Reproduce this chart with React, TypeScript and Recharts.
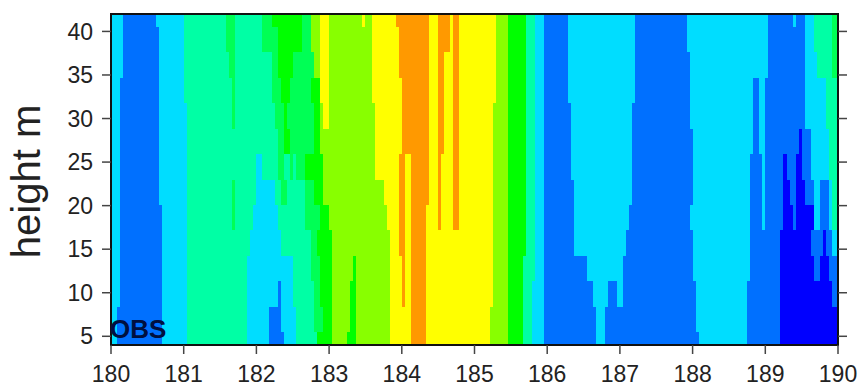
import { ComposedChart, ReferenceArea, Scatter, XAxis, YAxis } from "recharts";

// colour classes, lowest to highest
const palette = [
  "#0000ff",
  "#0070ff",
  "#00ddff",
  "#00ffa5",
  "#00ff55",
  "#00ff00",
  "#88ff00",
  "#ffff00",
  "#ff9900",
];

const startDay = 180;
const xTicks = [180, 181, 182, 183, 184, 185, 186, 187, 188, 189, 190];
const yTicks = [5, 10, 15, 20, 25, 30, 35, 40];

// measurement heights in m, bottom to top
const heights = [4, 6.9, 9.8, 12.8, 15.7, 18.6, 21.5, 24.5, 27.4, 30.3, 33.2, 36.2, 39.1, 42];

// each row: [colour class, hour the run ends at], hours counted from day 180
type Run = [number, number];

const row00: Run[] = [[2,2],[1,17],[2,25],[3,45],[2,52],[1,57],[2,61],[3,68],[5,73],[6,78],[5,81],[6,92],[7,99],[8,104],[7,125],[6,131],[5,136],[3,139],[2,143],[1,160],[2,163],[1,194],[2,210],[1,221],[0,240]];
const row01: Run[] = [[2,2],[1,17],[2,25],[3,45],[2,52],[1,56],[2,61],[3,67],[4,70],[5,73],[6,79],[5,81],[6,92],[7,99],[8,104],[7,125],[6,131],[5,136],[3,139],[2,143],[1,160],[2,163],[1,193],[2,210],[1,221],[0,240]];
const row02: Run[] = [[2,3],[1,17],[2,25],[3,45],[2,55],[1,56],[2,60],[3,67],[4,69],[5,73],[6,79],[5,81],[6,92],[7,96],[8,97],[7,99],[8,104],[7,126],[6,131],[5,136],[3,139],[2,143],[1,159],[2,164],[1,167],[2,169],[1,193],[2,210],[1,221],[0,238],[1,240]];
const row03: Run[] = [[2,3],[1,17],[2,25],[3,45],[2,60],[3,66],[4,69],[5,73],[6,80],[5,81],[6,92],[7,96],[8,97],[7,99],[8,104],[7,126],[6,131],[5,136],[3,140],[2,143],[1,157],[2,169],[1,192],[2,211],[1,221],[0,232],[1,234],[0,237],[1,240]];
const row04: Run[] = [[2,3],[1,17],[2,25],[3,46],[2,56],[3,66],[4,68],[5,73],[6,92],[7,95],[8,97],[7,99],[8,104],[7,126],[6,131],[5,137],[3,140],[2,143],[1,153],[2,170],[1,192],[2,211],[1,221],[0,231],[1,235],[0,236],[1,238],[2,240]];
const row05: Run[] = [[2,3],[1,17],[2,25],[3,40],[4,41],[3,47],[2,55],[3,64],[4,69],[5,72],[6,91],[7,95],[8,97],[7,99],[8,104],[7,108],[8,109],[7,113],[8,115],[7,126],[6,131],[5,137],[3,140],[2,143],[1,153],[2,171],[1,191],[2,211],[1,215],[2,216],[1,222],[0,225],[1,226],[0,232],[2,234],[1,237],[2,238],[3,240]];
const row06: Run[] = [[2,3],[1,16],[2,25],[3,40],[4,41],[3,48],[2,54],[3,56],[4,58],[3,64],[4,67],[5,70],[6,90],[7,95],[8,97],[7,99],[8,105],[7,108],[8,109],[7,113],[8,115],[7,126],[6,131],[5,137],[3,140],[2,143],[1,153],[2,172],[1,192],[2,211],[1,215],[2,216],[1,222],[0,224],[1,226],[0,229],[1,232],[2,234],[1,237],[2,238],[3,240]];
const row07: Run[] = [[2,3],[1,16],[2,25],[3,48],[2,50],[3,55],[4,57],[3,59],[4,60],[3,61],[4,64],[5,70],[6,87],[7,95],[8,97],[7,99],[8,105],[7,108],[8,109],[7,113],[8,115],[7,126],[6,131],[5,137],[3,140],[2,143],[1,152],[2,172],[1,192],[2,211],[1,215],[2,216],[1,222],[0,223],[1,226],[0,228],[1,231],[2,237],[3,240]];
const row08: Run[] = [[2,3],[1,16],[2,25],[3,55],[4,57],[5,59],[4,67],[5,69],[6,87],[7,96],[8,105],[7,108],[8,110],[7,113],[8,115],[7,126],[6,131],[5,137],[3,140],[2,143],[1,152],[2,172],[1,192],[2,212],[1,214],[2,216],[1,227],[0,228],[1,231],[2,237],[3,240]];
const row09: Run[] = [[2,3],[1,16],[2,25],[3,40],[4,41],[3,54],[4,57],[5,58],[4,67],[5,69],[6,70],[7,72],[6,87],[7,96],[8,105],[7,108],[8,110],[7,113],[8,115],[7,126],[6,131],[5,137],[3,140],[2,143],[1,152],[2,172],[1,191],[2,212],[1,214],[2,216],[1,229],[2,236],[3,240]];
const row10: Run[] = [[2,3],[1,16],[2,24],[3,40],[4,41],[3,53],[4,56],[5,59],[4,66],[5,69],[7,72],[6,86],[7,96],[8,105],[7,108],[8,110],[7,113],[8,115],[7,127],[6,131],[5,137],[3,140],[2,143],[1,151],[2,173],[1,191],[2,212],[1,214],[2,216],[1,229],[2,236],[3,240]];
const row11: Run[] = [[2,4],[1,16],[2,24],[3,39],[4,41],[3,53],[4,55],[5,60],[4,67],[6,69],[7,72],[6,86],[7,95],[8,105],[7,108],[8,110],[7,113],[8,115],[7,127],[6,131],[5,137],[3,140],[2,143],[1,151],[2,173],[1,191],[2,217],[1,229],[2,233],[3,238],[4,240]];
const row12: Run[] = [[2,4],[1,16],[2,24],[3,38],[4,41],[3,50],[4,55],[5,63],[4,66],[6,69],[7,72],[6,86],[7,95],[8,105],[7,108],[8,112],[7,113],[8,115],[7,127],[6,131],[5,137],[3,140],[2,143],[1,151],[2,173],[1,190],[2,217],[1,229],[2,232],[3,238],[4,240]];
const row13: Run[] = [[2,4],[1,15],[2,24],[3,38],[4,41],[3,50],[4,53],[5,63],[4,66],[6,69],[7,72],[6,83],[7,84],[6,86],[7,94],[8,105],[7,108],[8,112],[7,113],[8,115],[7,127],[6,131],[5,137],[3,140],[2,143],[1,151],[2,173],[1,190],[2,217],[1,225],[2,226],[1,229],[2,232],[3,238],[4,240]];

const rows = [row00, row01, row02, row03, row04, row05, row06, row07, row08, row09, row10, row11, row12, row13];

const FONT = '"Liberation Sans", Arial, sans-serif';
const INK = "#222";

function Cell(props: any) {
  return (
    <rect
      x={props.x}
      y={props.y}
      width={props.width}
      height={props.height}
      fill={props.fill}
      shapeRendering="crispEdges"
    />
  );
}

function renderCells() {
  const cells: any[] = [];
  rows.forEach((row, r) => {
    const y1 = r === 0 ? heights[0] : (heights[r - 1] + heights[r]) / 2;
    const y2 = r === rows.length - 1 ? heights[r] : (heights[r] + heights[r + 1]) / 2;
    let from = 0;
    row.forEach(([colour, to]) => {
      cells.push(
        <ReferenceArea
          key={`${r}-${to}`}
          x1={startDay + from / 24}
          x2={startDay + to / 24}
          y1={y1}
          y2={y2}
          fill={palette[colour]}
          fillOpacity={1}
          stroke="none"
          shape={Cell}
        />
      );
      from = to;
    });
  });
  return cells;
}

export default function App() {
  return (
    <div style={{ position: "fixed", left: 0, top: 0, width: 861, height: 387, background: "#fff" }}>
      <ComposedChart width={861} height={387} margin={{ top: 0, right: 0, bottom: 0, left: 0 }}>
        <XAxis
          type="number"
          dataKey="x"
          domain={[180, 190]}
          ticks={xTicks}
          interval={0}
          allowDataOverflow
          height={42}
          tickSize={9}
          tickMargin={12}
          tick={{ fontFamily: FONT, fontSize: 23, fill: INK }}
          axisLine={{ stroke: "#111", strokeWidth: 2 }}
          tickLine={{ stroke: "#444", strokeWidth: 1.5 }}
        />
        <XAxis
          xAxisId="top"
          orientation="top"
          type="number"
          domain={[180, 190]}
          ticks={xTicks}
          interval={0}
          allowDataOverflow
          height={14}
          tickSize={9}
          tickFormatter={() => ""}
          axisLine={{ stroke: "#111", strokeWidth: 2 }}
          tickLine={{ stroke: "#444", strokeWidth: 1.5 }}
        />
        <YAxis
          type="number"
          dataKey="y"
          domain={[4, 42]}
          ticks={yTicks}
          interval={0}
          allowDataOverflow
          width={111}
          tickSize={9}
          tickMargin={9}
          tick={{ fontFamily: FONT, fontSize: 23, fill: INK }}
          axisLine={{ stroke: "#111", strokeWidth: 2 }}
          tickLine={{ stroke: "#444", strokeWidth: 1.5 }}
          label={{
            value: "height m",
            angle: -90,
            position: "insideLeft",
            offset: 0,
            dx: 26,
            dy: 2,
            style: { fontFamily: FONT, fontSize: 40, fill: INK, textAnchor: "middle" },
          }}
        />
        <YAxis
          yAxisId="right"
          orientation="right"
          type="number"
          domain={[4, 42]}
          ticks={yTicks}
          interval={0}
          allowDataOverflow
          width={23}
          tickSize={9}
          tickFormatter={() => ""}
          axisLine={{ stroke: "#111", strokeWidth: 2 }}
          tickLine={{ stroke: "#444", strokeWidth: 1.5 }}
        />
        <Scatter data={[]} isAnimationActive={false} />
        {renderCells()}
        <ReferenceArea x1={180} x2={190} y1={4} y2={42} fill="none" stroke="#111" strokeWidth={2} />
      </ComposedChart>
      <div
        style={{
          position: "absolute",
          left: 110,
          top: 314,
          fontFamily: FONT,
          fontWeight: 700,
          fontSize: 26,
          lineHeight: "30px",
          color: "#001040",
        }}
      >
        OBS
      </div>
    </div>
  );
}
